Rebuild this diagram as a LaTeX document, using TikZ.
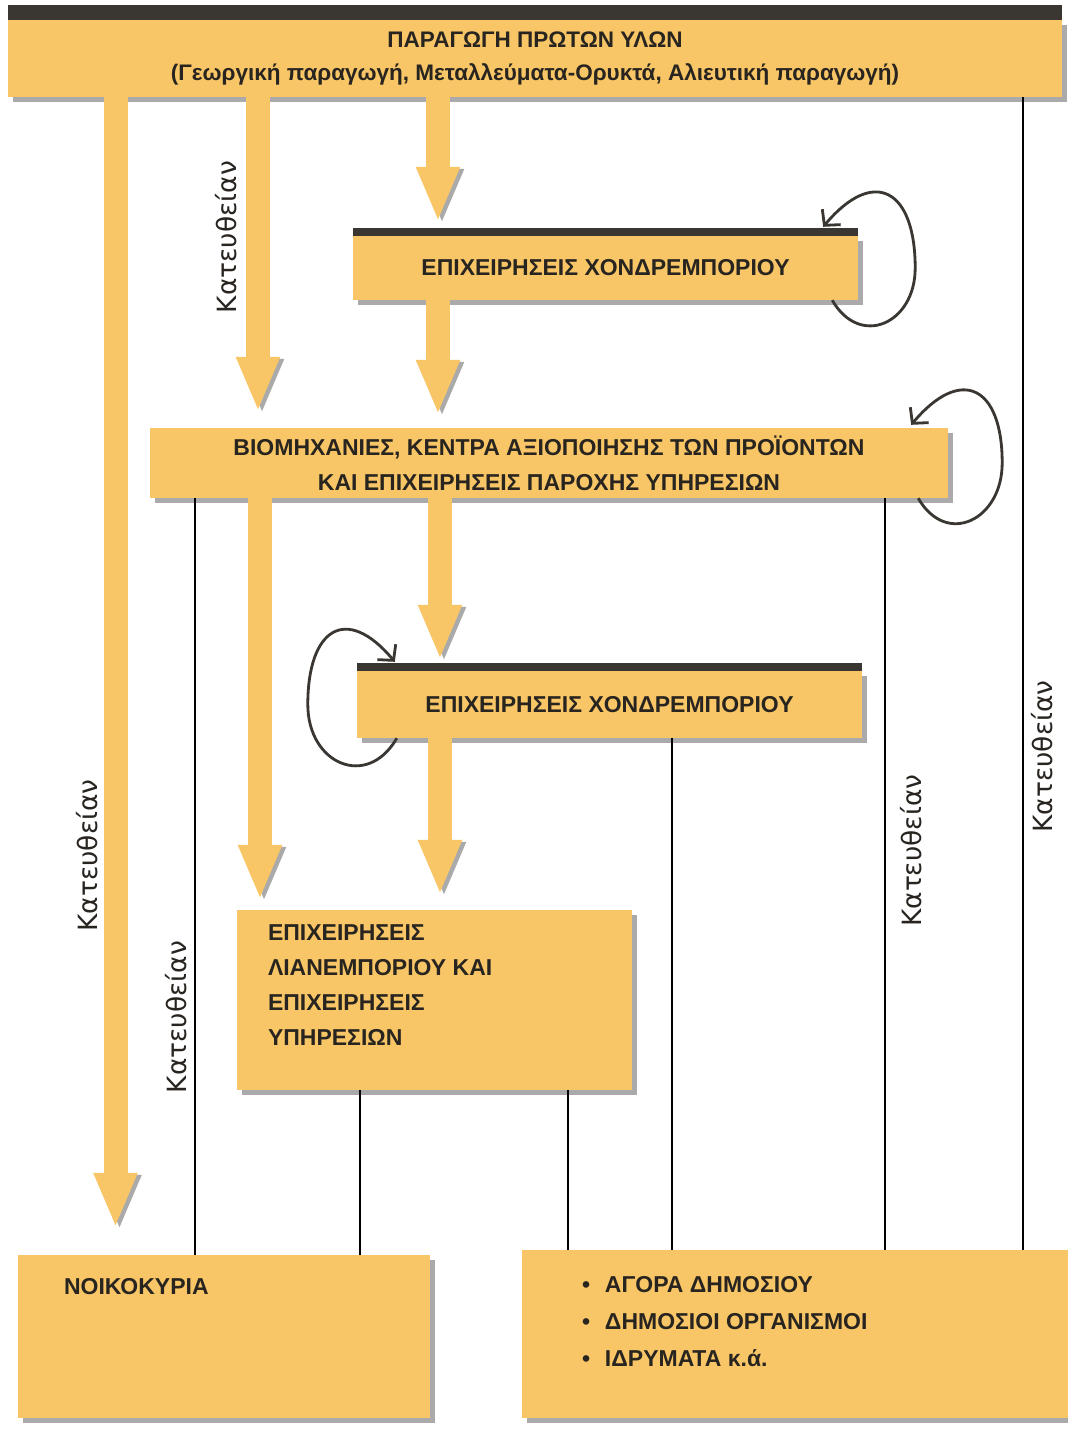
\documentclass[tikz,border=0pt]{standalone}
\usepackage{fontspec}
\setmainfont{Liberation Sans}
\newfontfamily\labelfont{DejaVu Sans}
\usetikzlibrary{arrows.meta,shadows}

\definecolor{boxyellow}{RGB}{248,198,102}
\definecolor{shadowgray}{RGB}{170,170,170}
\definecolor{barblack}{RGB}{58,54,50}
\definecolor{inkdark}{RGB}{40,36,32}

\begin{document}
\begin{tikzpicture}[x=1pt, y=1pt,
  box/.style={fill=boxyellow, inner sep=0pt, text=inkdark,
    font=\bfseries\fontsize{23}{35}\selectfont,
    drop shadow={shadow xshift=5pt, shadow yshift=-5pt, fill=shadowgray, opacity=1}},
  boxtext/.style={inner sep=0pt, text=inkdark, align=left, font=\bfseries\fontsize{23}{35}\selectfont},
  topbar/.style={fill=barblack},
  flow/.style={line width=24pt, draw=boxyellow, -{Triangle[width=40pt,length=55pt]},
    preaction={draw=shadowgray, transform canvas={xshift=4pt,yshift=-2pt}}},
  link/.style={draw=black, line width=1.4pt},
  cycle/.style={draw=barblack, line width=2.8pt, -{Straight Barb[length=11pt,width=24pt]}},
  direct/.style={font=\labelfont\fontsize{26.5}{29}\selectfont, rotate=90, inner sep=0pt, text=inkdark}]

\fill[white] (0,0) rectangle (1068,-1449);
\useasboundingbox (0,0) rectangle (1068,-1449);

\node[box, minimum width=1054pt, minimum height=77pt, align=center, font=\bfseries\fontsize{22.5}{33}\selectfont] (raw) at (535,-58.5)
  {ΠΑΡΑΓΩΓΗ ΠΡΩΤΩΝ ΥΛΩΝ\\(Γεωργική παραγωγή, Μεταλλεύματα-Ορυκτά, Αλιευτική παραγωγή)};
\node[box, minimum width=505pt, minimum height=64pt] (whole1) at (605.5,-268) {ΕΠΙΧΕΙΡΗΣΕΙΣ ΧΟΝΔΡΕΜΠΟΡΙΟΥ};
\node[box, minimum width=798pt, minimum height=70pt, align=center] (industry) at (549,-463)
  {ΒΙΟΜΗΧΑΝΙΕΣ, ΚΕΝΤΡΑ ΑΞΙΟΠΟΙΗΣΗΣ ΤΩΝ ΠΡΟΪΟΝΤΩΝ\\ΚΑΙ ΕΠΙΧΕΙΡΗΣΕΙΣ ΠΑΡΟΧΗΣ ΥΠΗΡΕΣΙΩΝ};
\node[box, minimum width=505pt, minimum height=67pt] (whole2) at (609.5,-704.5) {ΕΠΙΧΕΙΡΗΣΕΙΣ ΧΟΝΔΡΕΜΠΟΡΙΟΥ};
\node[box, minimum width=395pt, minimum height=180pt] (retail) at (434.5,-1000) {};
\node[box, minimum width=412pt, minimum height=163pt] (homes) at (224,-1336.5) {};
\node[box, minimum width=550pt, minimum height=168pt] (public) at (797,-1334) {};

\fill[topbar] (raw.north west) rectangle ([yshift=15pt]raw.north east);
\fill[topbar] (whole1.north west) rectangle ([yshift=8pt]whole1.north east);
\fill[topbar] (whole2.north west) rectangle ([yshift=8pt]whole2.north east);

\node[boxtext, anchor=north west] (retailtext) at ([xshift=31pt,yshift=-15pt]retail.north west)
  {ΕΠΙΧΕΙΡΗΣΕΙΣ\\ΛΙΑΝΕΜΠΟΡΙΟΥ ΚΑΙ\\ΕΠΙΧΕΙΡΗΣΕΙΣ\\ΥΠΗΡΕΣΙΩΝ};
\node[boxtext, anchor=north west] (homestext) at ([xshift=46pt,yshift=-23pt]homes.north west) {ΝΟΙΚΟΚΥΡΙΑ};
\node[boxtext, anchor=north west, font=\bfseries\fontsize{23}{37}\selectfont] (publictext) at ([xshift=60pt,yshift=-26pt]public.north west)
  {\makebox[23pt][l]{•}ΑΓΟΡΑ ΔΗΜΟΣΙΟΥ\\\makebox[23pt][l]{•}ΔΗΜΟΣΙΟΙ ΟΡΓΑΝΙΣΜΟΙ\\\makebox[23pt][l]{•}ΙΔΡΥΜΑΤΑ κ.ά.};

\draw[flow, shorten >=27pt] (raw.south -| 115.5,0) -- (homes.north -| 115.5,0)
  node[direct, anchor=south, outer sep=18pt, pos=0.655] {Κατευθείαν};
\draw[flow, shorten >=16pt] (raw.south -| 258,0) -- (industry.north -| 258,0)
  node[direct, anchor=south, outer sep=21pt, pos=0.423] {Κατευθείαν};
\draw[flow, shorten >=14pt] (raw.south -| 438,0) -- (whole1.north -| 438,0);
\draw[flow, shorten >=13pt] (whole1.south -| 438,0) -- (industry.north -| 438,0);
\draw[flow, shorten >=10pt] (industry.south -| 260,0) -- (retail.north -| 260,0);
\draw[flow, shorten >=11pt] (industry.south -| 440,0) -- (whole2.north -| 440,0);
\draw[flow, shorten >=15pt] (whole2.south -| 440,0) -- (retail.north -| 440,0);

\draw[link] (raw.south -| 1023,0) -- (public.north -| 1023,0)
  node[direct, anchor=north, outer sep=8pt, pos=0.572] {Κατευθείαν};
\draw[link] (industry.south -| 885,0) -- (public.north -| 885,0)
  node[direct, anchor=north, outer sep=15pt, pos=0.469] {Κατευθείαν};
\draw[link] (industry.south -| 195,0) -- (homes.north -| 195,0)
  node[direct, anchor=south, outer sep=8pt, pos=0.686] {Κατευθείαν};
\draw[link] (whole2.south -| 672,0) -- (public.north -| 672,0);
\draw[link] (retail.south -| 360,0) -- (homes.north -| 360,0);
\draw[link] (retail.south -| 568,0) -- (public.north -| 568,0);

\draw[cycle] ([xshift=-26pt]whole1.south east) to[out=-60, in=-90, looseness=1.6] ([xshift=57pt]whole1.east)
  to[out=90, in=50, looseness=2] ([xshift=-35pt,yshift=9pt]whole1.north east);
\draw[cycle] ([xshift=-30pt]industry.south east) to[out=-60, in=-90, looseness=1.6] ([xshift=54pt]industry.east)
  to[out=90, in=50, looseness=2] ([xshift=-37pt,yshift=3pt]industry.north east);
\draw[cycle] ([xshift=40pt]whole2.south west) to[out=-120, in=-90, looseness=1.6] ([xshift=-49pt]whole2.west)
  to[out=90, in=130, looseness=2] ([xshift=38pt,yshift=9pt]whole2.north west);
\end{tikzpicture}
\end{document}
